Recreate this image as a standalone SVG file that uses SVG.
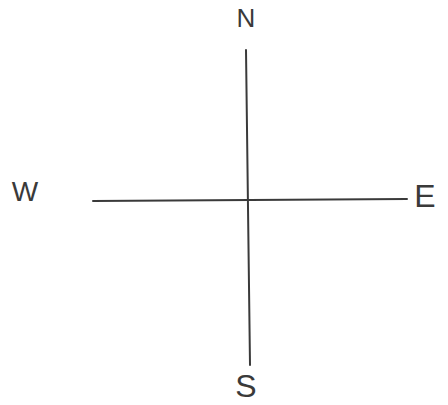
<svg xmlns="http://www.w3.org/2000/svg" width="448" height="405" viewBox="0 0 448 405">
<style>
.ln{stroke:#3a3a3a;stroke-width:2;fill:none;stroke-linecap:round}
.lb{font-family:"Liberation Sans",Arial,sans-serif;fill:#3a3a3a;text-anchor:middle;font-weight:300}
</style>
<rect width="448" height="405" fill="#ffffff"/>
<g id="connectors">
<path class="ln" d="M246,50 L250,365"/>
<path class="ln" d="M93,201 L407,199"/>
</g>
<g id="north"><text class="lb" x="246" y="27" font-size="26">N</text></g>
<g id="west"><text class="lb" x="25" y="201" font-size="28">W</text></g>
<g id="east"><text class="lb" x="425" y="207" font-size="32">E</text></g>
<g id="south"><text class="lb" x="246" y="397" font-size="32">S</text></g>
</svg>
